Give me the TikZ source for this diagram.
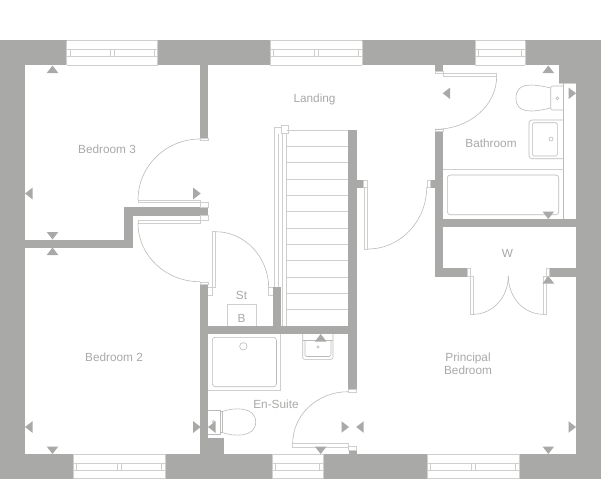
\documentclass[tikz,border=0pt]{standalone}
\usepackage{fontspec}
\setmainfont{Liberation Sans}
\definecolor{wallgrey}{HTML}{A9A9A8}
\definecolor{linegrey}{HTML}{CFCFCE}
\definecolor{fixgrey}{HTML}{BBBBBA}
\begin{document}
\begin{tikzpicture}[x=1pt,y=-1pt,
wall/.style={fill=wallgrey,draw=none},
fitting/.style={draw=linegrey,line width=0.8pt},
fixture/.style={draw=fixgrey,line width=0.6pt},
swing/.style={draw=fixgrey,line width=0.6pt},
room/.style={text=wallgrey,font=\fontsize{11.8}{12.5}\selectfont,align=center,inner sep=0pt}]
\useasboundingbox (0,0) rectangle (601,480);
\fill[white] (0,0) rectangle (601,480);
\fill[wall] (0,40) rectangle (25,479);
\fill[wall] (576,40) rectangle (601,479);
\foreach \wa/\wb in {0/66.5,157.5/270,362/475,525/601} \fill[wall] (\wa,40) rectangle (\wb,65);
\foreach \wa/\wb in {0/73,165/272,323/427,519/601} \fill[wall] (\wa,454) rectangle (\wb,479);
\fill[wall] (559,65) rectangle (576,83);
\fill[wall] (200,65) rectangle (208,138);
\fill[wall] (124,207.3) rectangle (208,215.7);
\fill[wall] (124,207.3) rectangle (132.5,247.5);
\fill[wall] (25,239.5) rectangle (132.5,247.5);
\fill[wall] (200,284) rectangle (208,454);
\fill[wall] (208,437.7) rectangle (224,454);
\fill[wall] (272.5,287) rectangle (280.5,326);
\fill[wall] (208,325.7) rectangle (356.7,334);
\fill[wall] (348,130) rectangle (356.7,389);
\fill[wall] (356.7,180) rectangle (363.3,187.7);
\fill[wall] (430,180) rectangle (435,187.7);
\fill[wall] (435,131.7) rectangle (443,276.7);
\fill[wall] (435,65) rectangle (443,71);
\fill[wall] (443,219) rectangle (576,227.3);
\fill[wall] (435,268.3) rectangle (467.7,276.7);
\fill[wall] (549,268.3) rectangle (576,276.7);
\fill[wall] (348.5,450) rectangle (356.7,454);
\foreach \wa/\wb/\wy in {66.5/157.5/40.5,270/362/40.5,475/525/40.5,73/165/454,272/323/454,427/519/454} {
\draw[fitting] (\wa,\wy) -- (\wb,\wy) (\wa,\wy) -- (\wa,\wy+24.5) (\wb,\wy) -- (\wb,\wy+24.5) (\wa,\wy+24.5) -- (\wb,\wy+24.5);
\draw[fitting] (\wa,\wy+9) -- (\wb,\wy+9) (\wa,\wy+16.3) -- (\wb,\wy+16.3);
\draw[fitting] (\wa+3.5,\wy+9) -- (\wa+3.5,\wy+16.3) (\wb-3.5,\wy+9) -- (\wb-3.5,\wy+16.3);
}
\foreach \wc/\wy in {112/40.5,316/40.5,119/454,473/454} \draw[fitting] (\wc-2,\wy+9) rectangle (\wc+2,\wy+16.3);
\draw[fitting] (138,200) rectangle (200.7,202.3);
\draw[fitting] (138,220) rectangle (200.7,223);
\draw[fitting] (200.7,202.3) rectangle (208,207.3) (200.7,215.7) rectangle (208,220);
\draw[fitting] (200,138) rectangle (208,140);
\draw[fitting] (200,282) rectangle (208,284);
\draw[swing] (138,200) .. controls +(0,-34) and +(-34,0) .. (200,139);
\draw[swing] (138,223) .. controls +(0,33) and +(-34,0) .. (200,281.7);
\draw[fitting] (208,287.3) -- (212.3,287.3) -- (212.3,231.7) -- (215.7,231.7) -- (215.7,287.3) -- (212.3,287.3);
\draw[fitting] (208,295) -- (212.3,295) -- (212.3,287.3);
\draw[fitting] (272.5,287.5) -- (268.7,287.5) -- (268.7,295) -- (272.5,295);
\draw[swing] (215.7,231.7) .. controls +(29,0) and +(0,-31) .. (268.7,288);
\draw[fitting] (227,326) -- (227,304) -- (256,304) -- (256,326);
\draw[fitting] (274.3,287) -- (274.3,127.3) -- (281,127.3);
\draw[fitting] (278.3,287) -- (278.3,133.5);
\draw[fitting] (282.3,326) -- (282.3,133.5);
\draw[fitting] (286.7,326) -- (286.7,133.5);
\draw[fitting,fill=white] (281,125.5) rectangle (288.5,133.5);
\foreach \st in {0,...,11} \draw[fitting] (287,130+16.35*\st) -- (348,130+16.35*\st);
\draw[fitting] (363.3,180) rectangle (367.5,187.7);
\draw[fitting] (364,187.7) rectangle (367.7,249);
\draw[fitting] (427,180) rectangle (430,187.7);
\draw[swing] (367.7,249) .. controls +(33,0) and +(0,34) .. (426.7,187);
\draw[fitting] (435,71) rectangle (443,73.3);
\draw[fitting] (443,73.3) rectangle (496.7,76.7);
\draw[fitting] (435,129.3) rectangle (443,131.7);
\draw[swing] (496.7,76) .. controls +(0,30) and +(34,0) .. (435,129.3);
\draw[fitting] (467.5,268.3) rectangle (470,276.7);
\draw[fitting] (546.3,268.3) rectangle (549,276.7);
\draw[fitting] (470,276.7) rectangle (473,314.3);
\draw[fitting] (543.3,276.7) rectangle (546.3,314.3);
\draw[swing] (473,314.3) .. controls +(20,0) and +(0,21) .. (508.3,276);
\draw[swing] (543.3,314.3) .. controls +(-20,0) and +(0,21) .. (508.3,276);
\draw[fitting] (208,390) -- (280.7,390) -- (280.7,334);
\draw[fixture,rounded corners=3pt] (212.3,337.3) rectangle (276.5,386.7);
\draw[fixture] (243.3,346.3) circle (3.7pt);
\draw[fixture] (208,410) -- (220,410) -- (220,434) -- (208,434);
\draw[fixture] (213.3,421.7) circle (1.3pt);
\draw[fixture] (220,411.5) -- (222.5,411.5) .. controls (233,407.5) and (255.7,406) .. (255.7,422) .. controls (255.7,438) and (233,436.5) .. (222.5,432.5) -- (220,432.5);
\draw[fixture] (222.5,411.5) -- (222.5,432.5);
\draw[fixture,rounded corners=2pt] (302.7,334) -- (302.7,359.3) -- (333,359.3) -- (333,334);
\draw[fixture,rounded corners=1.5pt] (305,340) -- (305,356.5) -- (331,356.5) -- (331,340);
\draw[fixture] (303,340) -- (333,340);
\draw[fixture] (318,347) circle (1.2pt);
\draw[fitting] (292.7,443.3) rectangle (348,447);
\draw[fitting] (348,446.7) rectangle (356.7,450);
\draw[fitting] (348.3,389) rectangle (356.7,392.3);
\draw[swing] (292.7,443.3) .. controls +(0,-28.5) and +(-30.5,0) .. (348,391.7);
\draw[fitting] (559,83) -- (576,83);
\draw[fixture] (563.5,83) -- (563.5,219);
\draw[fixture,rounded corners=2pt] (563.5,86) -- (550.7,86) -- (550.7,110) -- (563.5,110);
\draw[fixture] (550.7,88) .. controls (530,83) and (516,83) .. (516,98) .. controls (516,113) and (530,113) .. (550.7,108);
\draw[fixture] (557.3,98.3) circle (1.5pt);
\draw[fixture,rounded corners=3pt] (563.5,120) -- (529,120) -- (529,158.7) -- (563.5,158.7);
\draw[fixture,rounded corners=1.5pt] (557.3,122.7) -- (532.3,122.7) -- (532.3,156) -- (557.3,156) -- cycle;
\draw[fixture] (551,139) circle (2pt);
\draw[fitting] (443,169.3) -- (563.5,169.3);
\draw[fixture,rounded corners=3pt] (447.3,175) rectangle (558.7,214.7);
\foreach \tx/\ty in {52.5/65.5,52.5/247.5,548.3/65.5,548.3/276,320.7/334} \fill[wallgrey] (\tx,\ty) -- ++(-5.8,7.5) -- ++(11.6,0) -- cycle;
\foreach \tx/\ty in {52.5/239.5,52.5/454,548.3/219,320.7/454,548.3/454} \fill[wallgrey] (\tx,\ty) -- ++(-5.8,-7.5) -- ++(11.6,0) -- cycle;
\foreach \tx/\ty in {25/193.5,25/427,208/427,442.7/93.3,356.2/427} \fill[wallgrey] (\tx,\ty) -- ++(7.5,-5.8) -- ++(0,11.6) -- cycle;
\foreach \tx/\ty in {200.7/193.5,200.7/427,576/93.3,349/427,576/427} \fill[wallgrey] (\tx,\ty) -- ++(-7.5,-5.8) -- ++(0,11.6) -- cycle;
\node[room] (bedthree) at (107,149) {Bedroom 3};
\node[room] (landing) at (314.5,99) {Landing};
\node[room] (bathroom) at (491,143) {Bathroom};
\node[room] (wardrobe) at (507.5,253) {W};
\node[room] (store) at (241.5,295) {St};
\node[room] (boiler) at (241.5,318) {B};
\node[room] (bedtwo) at (114,357) {Bedroom 2};
\node[room] (ensuite) at (276,404) {En-Suite};
\node[room] (principal) at (468,364) {Principal\\Bedroom};
\end{tikzpicture}
\end{document}
